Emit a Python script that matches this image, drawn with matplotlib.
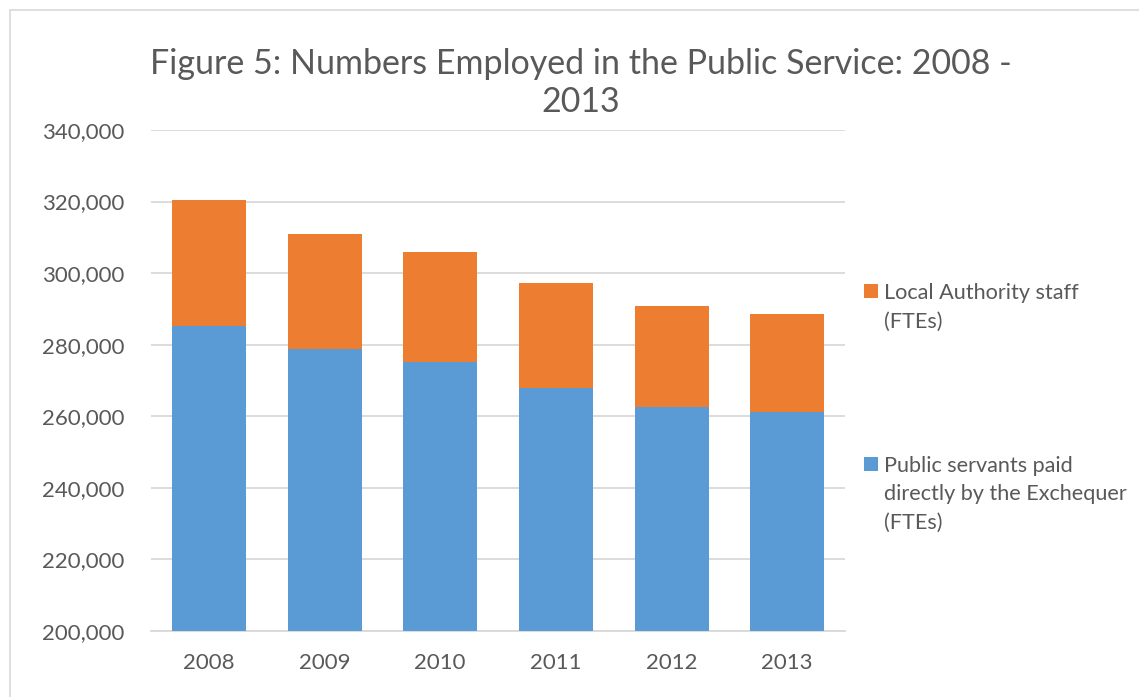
import matplotlib.pyplot as plt
from matplotlib.patches import Rectangle
from matplotlib.ticker import FuncFormatter

plt.rcParams['font.family'] = ['Lato', 'DejaVu Sans']

# Values (FTEs)
years = ["2008", "2009", "2010", "2011", "2012", "2013"]
exchequer = [285300, 278700, 275200, 267800, 262500, 261100]
totals = [320400, 310800, 306000, 297200, 290800, 288600]
local_auth = [t - e for t, e in zip(totals, exchequer)]

series_names = ["Local Authority staff\n(FTEs)",
                "Public servants paid\ndirectly by the Exchequer\n(FTEs)"]

blue = "#5B9BD5"
orange = "#ED7D31"
grid_col = "#D9D9D9"
text_col = "#595959"

W, H = 1139, 697
fig = plt.figure(figsize=(W / 100, H / 100), dpi=100)
ax = fig.add_axes([0.1326, 0.0947, 0.6093, 0.7188])

x = range(len(years))
ax.bar(x, exchequer, width=0.64, color=blue, zorder=3)
ax.bar(x, local_auth, width=0.64, color=orange, bottom=exchequer, zorder=3)

ax.set_ylim(200000, 340000)
ax.set_xlim(-0.5, len(years) - 0.5)
ax.set_yticks(range(200000, 340001, 20000))
ax.yaxis.set_major_formatter(FuncFormatter(lambda v, p: f"{int(v):,}"))
ax.set_xticks(list(x))
ax.set_xticklabels(years)
ax.yaxis.grid(True, color=grid_col, linewidth=1.3, zorder=0)
ax.set_axisbelow(True)
for s in ["top", "right", "left"]:
    ax.spines[s].set_visible(False)
ax.spines["bottom"].set_color(grid_col)
ax.spines["bottom"].set_linewidth(1.3)
ax.tick_params(length=0, labelsize=16, labelcolor=text_col)
ax.tick_params(axis="y", pad=19)
ax.tick_params(axis="x", pad=16)

# legend drawn by hand: square marker beside the first line of each entry
def px(xp, yp):
    return xp / W, 1 - yp / H

for name, col, base in [(series_names[0], orange, 299), (series_names[1], blue, 472)]:
    mx, my = px(864, base - 1)
    fig.patches.append(Rectangle((mx, my), 14 / W, 14 / H, transform=fig.transFigure,
                                 facecolor=col, edgecolor="none"))
    for i, line in enumerate(name.split("\n")):
        tx, ty = px(884, base + i * 28.5)
        fig.text(tx, ty, line, ha="left", va="baseline", fontsize=15.6, color=text_col)

fig.text(0.51, 0.831, "Figure 5: Numbers Employed in the Public Service: 2008 -\n2013",
         ha="center", va="bottom", fontsize=24.5, color=text_col,
         linespacing=1.22)

# chart border
fig.patches.append(Rectangle((0.009, -0.02), 1.2, 1.005, transform=fig.transFigure,
                             fill=False, edgecolor=grid_col, linewidth=1.2))

plt.savefig("out.png", dpi=100)
